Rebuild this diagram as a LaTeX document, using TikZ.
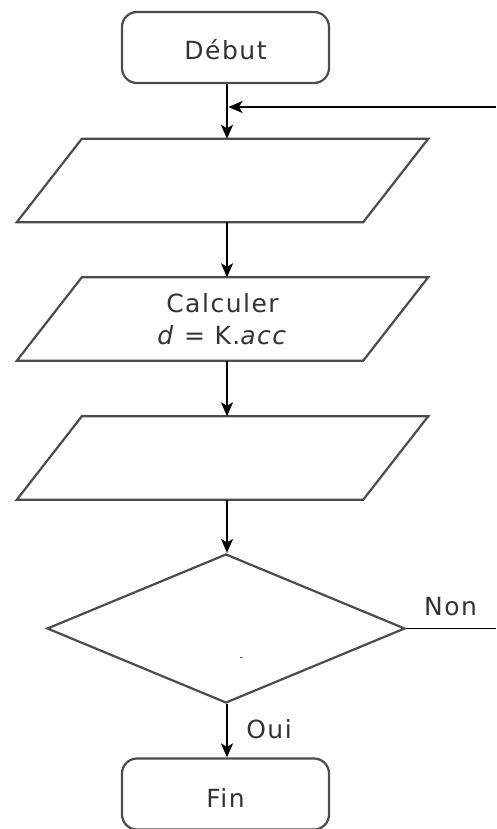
\documentclass[tikz,border=0pt]{standalone}
\usepackage{fontspec}
\setmainfont{DejaVu Sans}[LetterSpace=6]
\usetikzlibrary{arrows.meta,shapes.geometric,calc}
\begin{document}
\begin{tikzpicture}[x=1pt,y=-1pt,
  shapeline/.style={draw=black!70, line width=2.2pt},
  txt/.style={font=\fontsize{25}{32}\selectfont, text=black!80},
  term/.style={shapeline, txt, rounded corners=15pt, minimum width=207pt, minimum height=71pt, inner sep=0pt, text depth=0pt},
  para/.style={txt, minimum width=411pt, minimum height=83pt, inner sep=0pt, align=center},
  decide/.style={shapeline, diamond, minimum width=358pt, minimum height=149pt, inner sep=0pt},
  flow/.style={draw=black, line width=1.5pt, -{Stealth[length=14pt,width=12pt,inset=3.5pt]}},
  plain/.style={draw=black, line width=1.5pt},
  lbl/.style={txt, inner sep=0pt}
]
\useasboundingbox (0,0) rectangle (496,829);
\node[term, text height=24pt] (debut) at (225.5,47.5) {Début};
\node[para] (p1) at (222.5,180.5) {};
\node[para] (p2) at (222.5,319) {Calculer\\\textit{d} = K.\textit{acc}};
\node[para] (p3) at (222.5,458) {};
\foreach \p in {p1,p2,p3}{
  \draw[shapeline, line join=miter] ($(\p.north west)+(65,0)$) -- (\p.north east)
     -- ($(\p.south east)-(65,0)$) -- (\p.south west) -- cycle;
}
\node[decide] (dec) at (226,628.5) {};
\node[term, text height=26pt] (fin) at (225.5,794) {Fin};
\coordinate (loopin) at (496,107);
\coordinate (nonend) at (496,628.5);
\coordinate (x0) at (227,0);
\draw[flow] (debut.south -| x0) -- (p1.north -| x0);
\draw[flow, shorten >=1.5pt] (loopin) -- (loopin -| x0);
\draw[flow] (p1.south -| x0) -- (p2.north -| x0);
\draw[flow] (p2.south -| x0) -- (p3.north -| x0);
\draw[flow] (p3.south -| x0) -- (dec.north -| x0);
\draw[flow] (dec.south -| x0) -- node[lbl, anchor=base west, xshift=18.5pt, yshift=-7.5pt] (oui) {Oui} (fin.north -| x0);
\draw[plain] (dec.east) -- node[lbl, anchor=base, yshift=13pt, xshift=-0.5pt] (non) {Non} (nonend);
\draw[black!60, line width=0.8pt] (240,657) -- (243,657);
\end{tikzpicture}
\end{document}
